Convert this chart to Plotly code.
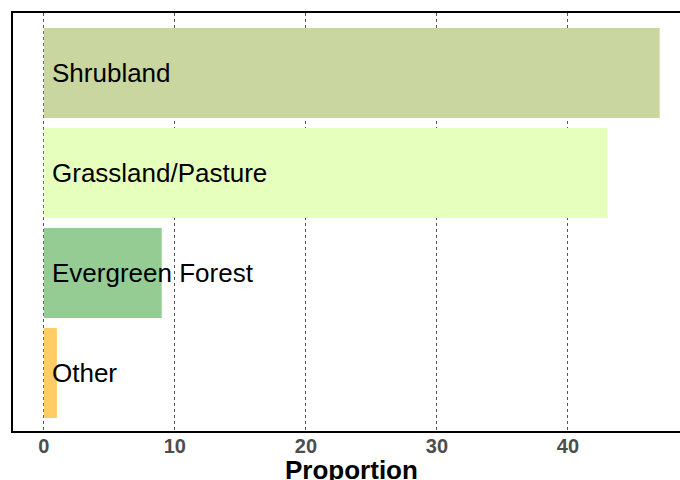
import plotly.graph_objects as go

categories = ["Other", "Evergreen Forest", "Grassland/Pasture", "Shrubland"]
proportions = [1, 9, 43, 47]
bar_colors = ["#FFCC66", "#94CC94", "#E6FFBC", "#C9D6A0"]
tick_values = [0, 10, 20, 30, 40]
label_x = 0.5

fig = go.Figure()
fig.add_trace(go.Bar(
    x=proportions, y=categories, orientation="h",
    marker=dict(color=bar_colors, line=dict(width=0)),
    hoverinfo="skip", showlegend=False,
))

for cat in categories:
    fig.add_annotation(
        x=label_x, y=cat, xref="x", yref="y", text=cat, showarrow=False,
        xanchor="left", yanchor="middle",
        font=dict(family="Liberation Sans, Arial, sans-serif", size=26, color="black"),
    )

fig.add_annotation(
    x=0.507, y=-0.094, xref="paper", yref="paper", text="<b>Proportion</b>",
    showarrow=False, xanchor="center", yanchor="middle",
    font=dict(family="Liberation Sans, Arial, sans-serif", size=26, color="black"),
)

fig.update_layout(
    width=680, height=480,
    margin=dict(l=13, r=0, t=13, b=49, pad=0),
    paper_bgcolor="white", plot_bgcolor="white",
    bargap=0.1,
    xaxis=dict(
        range=[-2.35, 48.55], tickvals=tick_values,
        showgrid=True, gridcolor="#555555", griddash="dot", gridwidth=1,
        zeroline=False, showline=True, linecolor="black", linewidth=2, mirror=True,
        ticks="", ticklabelstandoff=-4,
        tickfont=dict(family="Liberation Sans, Arial, sans-serif", size=20,
                      color="#4D4D4D", weight="bold"),
    ),
    yaxis=dict(
        range=[-0.58, 3.6], showticklabels=False, showgrid=False, zeroline=False,
        showline=True, linecolor="black", linewidth=2, mirror=False, ticks="",
    ),
)

fig.write_html(
    "out.html",
    config={"displayModeBar": False},
    post_script="document.body.style.margin='0px';document.body.style.overflow='hidden';",
)
